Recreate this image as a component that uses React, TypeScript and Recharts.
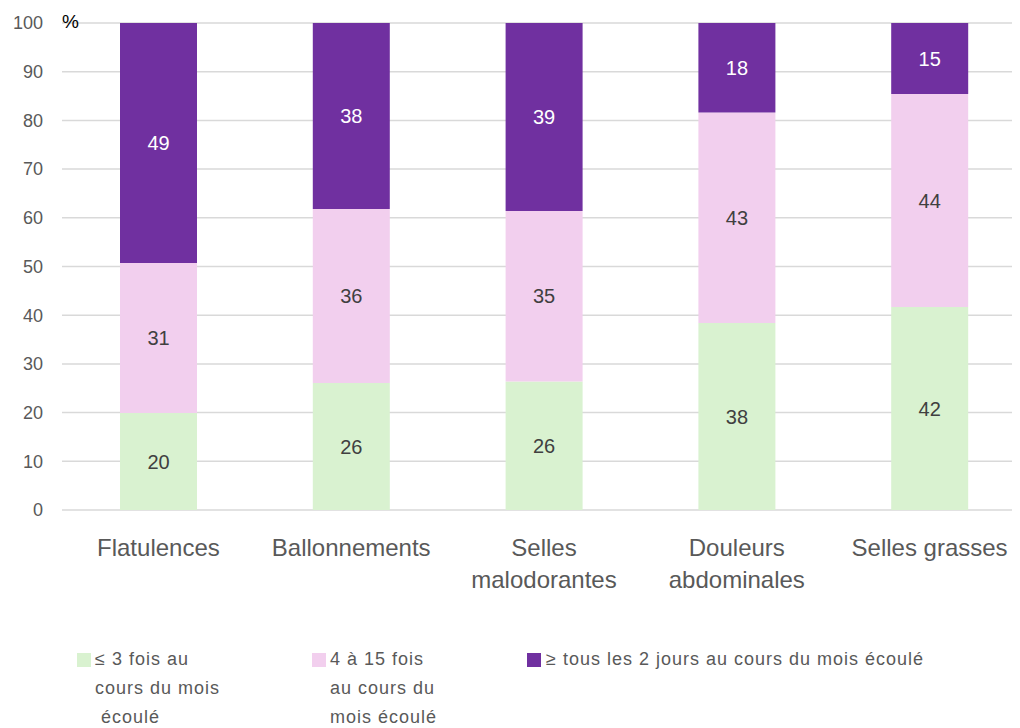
import React from 'react';
import { BarChart, Bar, XAxis, YAxis, CartesianGrid, LabelList } from 'recharts';

const categories = ['Flatulences', 'Ballonnements', 'Selles malodorantes', 'Douleurs abdominales', 'Selles grasses'];
const categoryLines = [['Flatulences'], ['Ballonnements'], ['Selles', 'malodorantes'], ['Douleurs', 'abdominales'], ['Selles grasses']];
const rare = [19.9, 26.1, 26.4, 38.4, 41.7];
const moderate = [30.8, 35.7, 35.0, 43.2, 43.7];
const frequent = [49.3, 38.2, 38.6, 18.4, 14.6];
const yTicks = [0, 10, 20, 30, 40, 50, 60, 70, 80, 90, 100];

const seriesNames = ['≤ 3 fois au cours du mois écoulé', '4 à 15 fois au cours du mois écoulé', '≥ tous les 2 jours au cours du mois écoulé'];
const legendLines = [['≤ 3 fois au', 'cours du mois', '\u00a0écoulé'], ['4 à 15 fois', 'au cours du', 'mois écoulé'], ['≥ tous les 2 jours au cours du mois écoulé']];
const colors = ['#d9f2d0', '#f2cfee', '#7030a0'];
const labelColors = ['#404040', '#404040', '#ffffff'];

const data = categories.map((c, i) => ({ name: c, rare: rare[i], moderate: moderate[i], frequent: frequent[i] }));

const FONT = '"Liberation Sans", Arial, sans-serif';

const CategoryTick = (props: any) => {
  const { x, y, payload } = props;
  const lines = categoryLines[payload.index] || [payload.value];
  return (
    <text x={x} y={y} textAnchor="middle" fill="#595959" fontSize={24} fontFamily={FONT}>
      {lines.map((l: string, i: number) => (
        <tspan key={i} x={x} dy={i === 0 ? 38 : 32}>{l}</tspan>
      ))}
    </text>
  );
};

const fmt = (v: any) => Math.round(Number(v));

const legendPos = [
  { sq: 77, tx: 95 },
  { sq: 312, tx: 330 },
  { sq: 527, tx: 546 },
];

export default function App() {
  const keys = ['rare', 'moderate', 'frequent'];
  return (
    <div style={{ position: 'relative', margin: '-8px 0 0 -8px', width: 1020, height: 728, overflow: 'hidden', fontFamily: FONT, background: '#fff' }}>
      <BarChart width={1030} height={728} data={data} margin={{ top: 23, right: 4, left: 0, bottom: 118 }}>
        <CartesianGrid vertical={false} stroke="#d9d9d9" strokeWidth={1.5} />
        <XAxis dataKey="name" axisLine={false} tickLine={false} height={100} tick={<CategoryTick />} interval={0} />
        <YAxis domain={[0, 100]} ticks={yTicks} width={62} axisLine={false} tickLine={false} tickSize={0} tickMargin={19}
          tick={{ fill: '#595959', fontSize: 18, fontFamily: FONT }} interval={0} />
        {keys.map((k, i) => (
          <Bar key={k} dataKey={k} name={seriesNames[i]} stackId="a" fill={colors[i]} barSize={77} isAnimationActive={false}>
            <LabelList dataKey={k} position="center" formatter={fmt} fill={labelColors[i]} fontSize={20} fontFamily={FONT} />
          </Bar>
        ))}
      </BarChart>
      <div style={{ position: 'absolute', left: 62, top: 11, fontSize: 19, color: '#000' }}>%</div>
      {legendLines.map((lines, i) => (
        <React.Fragment key={i}>
          <div style={{ position: 'absolute', left: legendPos[i].sq, top: 653, width: 14, height: 14, background: colors[i] }} />
          <div style={{ position: 'absolute', left: legendPos[i].tx, top: 645, fontSize: 18, lineHeight: '29px', color: '#595959', letterSpacing: 1, whiteSpace: 'nowrap' }}>
            {lines.map((l, j) => (<div key={j}>{l}</div>))}
          </div>
        </React.Fragment>
      ))}
    </div>
  );
}
